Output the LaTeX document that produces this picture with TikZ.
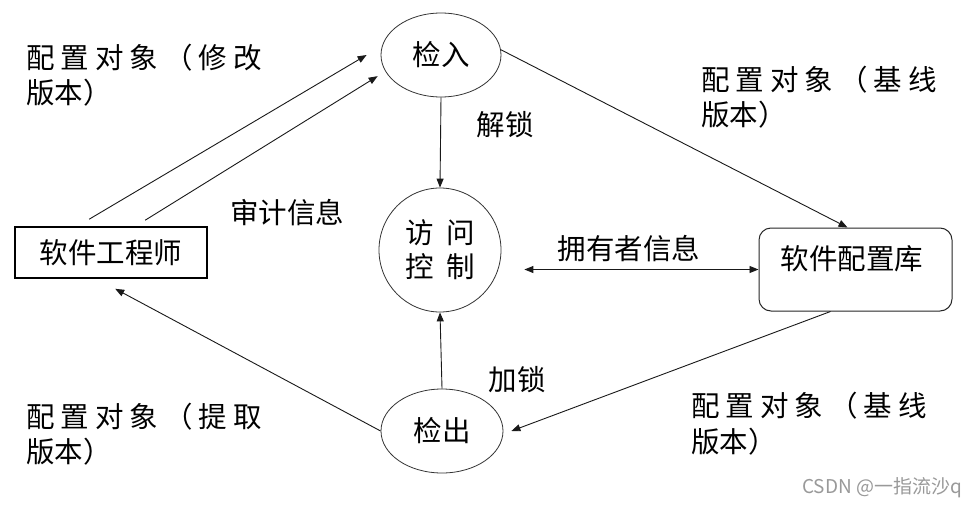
\documentclass[tikz,border=0pt]{standalone}
\usepackage{fontspec}
\newfontfamily\cjk{Noto Sans CJK SC}
\usetikzlibrary{shapes.geometric,arrows.meta,calc}
\begin{document}
\begin{tikzpicture}[x=1pt,y=-1pt,
  ell/.style={ellipse,draw=black!80,line width=0.8pt,inner sep=0pt,align=center,font=\cjk\fontsize{28.5}{34}\selectfont},
  lab/.style={inner sep=0pt,anchor=west,font=\cjk\fontsize{28.5}{34}\selectfont},
  slab/.style={inner sep=0pt,anchor=west,font=\cjk\fontsize{28.5}{34}\selectfont\addfontfeature{LetterSpace=21}},
  clab/.style={inner sep=0pt,anchor=center,font=\cjk\fontsize{28.5}{34}\selectfont},
  arr/.style={draw=black!90,line width=0.9pt,-{Triangle[length=9pt,width=7pt]}},
  arrb/.style={draw=black!90,line width=0.9pt,{Triangle[length=9pt,width=7pt]}-{Triangle[length=9pt,width=7pt]}},
  ]
\useasboundingbox (0,0) rectangle (974,508);
\fill[white] (0,0) rectangle (974,508);

% nodes
\node[ell,minimum width=120pt,minimum height=84pt] (chkin) at (441,55) {检入};
\node[ell,minimum width=122pt,minimum height=124pt] (acc) at (440,250) {访\hspace{0.45em}问\\控\hspace{0.45em}制};
\node[ell,minimum width=122pt,minimum height=84pt] (chkout) at (442,431) {检出};
\node[draw,line width=1.6pt,minimum width=192pt,minimum height=51pt,inner sep=0pt,font=\cjk\fontsize{28.5}{34}\selectfont] (eng) at (111,252.5) {软件工程师};
\node[draw=black!85,rounded corners=12pt,line width=1pt,minimum width=193pt,minimum height=83pt,inner sep=0pt] (lib) at (855.5,269.5) {};
\node[clab] (libt) at (852,259) {软件配置库};

% labels
\node[slab] (l1a) at (26,58) {配置对象（修改};
\node[lab] (l1b) at (26,93) {版本）};
\node[slab] (l2a) at (701,80) {配置对象（基线};
\node[lab] (l2b) at (701,115) {版本）};
\node[slab] (l3a) at (26,417) {配置对象（提取};
\node[lab] (l3b) at (26,452) {版本）};
\node[slab] (l4a) at (691,406) {配置对象（基线};
\node[lab] (l4b) at (691,442) {版本）};
\node[clab] (unlock) at (505,125) {解锁};
\node[clab] (audit) at (287,213) {审计信息};
\node[clab] (owner) at (629,249) {拥有者信息};
\node[clab] (lock) at (517,380) {加锁};
\node[inner sep=0pt,text=black!40,font=\cjk\fontsize{19}{20}\selectfont] (wm) at (882,488) {CSDN @一指流沙q};

% connectors
\draw[arr] ([shift={(75pt,7pt)}]eng.north west) -- ([xshift=-14pt]chkin.west);
\draw[arr] ([shift={(131pt,6pt)}]eng.north west) -- ([xshift=-11pt]chkin.202);
\draw[arr] (chkin.south) -- (acc.north);
\draw[arr] (chkin.5) -- ([xshift=89pt]lib.north west);
\draw[arrb] (lib.west) -- ([xshift=23pt]lib.west -| acc.east);
\draw[arr] ([xshift=-122pt]lib.south east) -- ([xshift=8pt]chkout.east);
\draw[arr] (chkout.west) -- ([shift={(101pt,-10pt)}]eng.south west);
\draw[arr] (chkout.north) -- (acc.south);
\end{tikzpicture}
\end{document}
